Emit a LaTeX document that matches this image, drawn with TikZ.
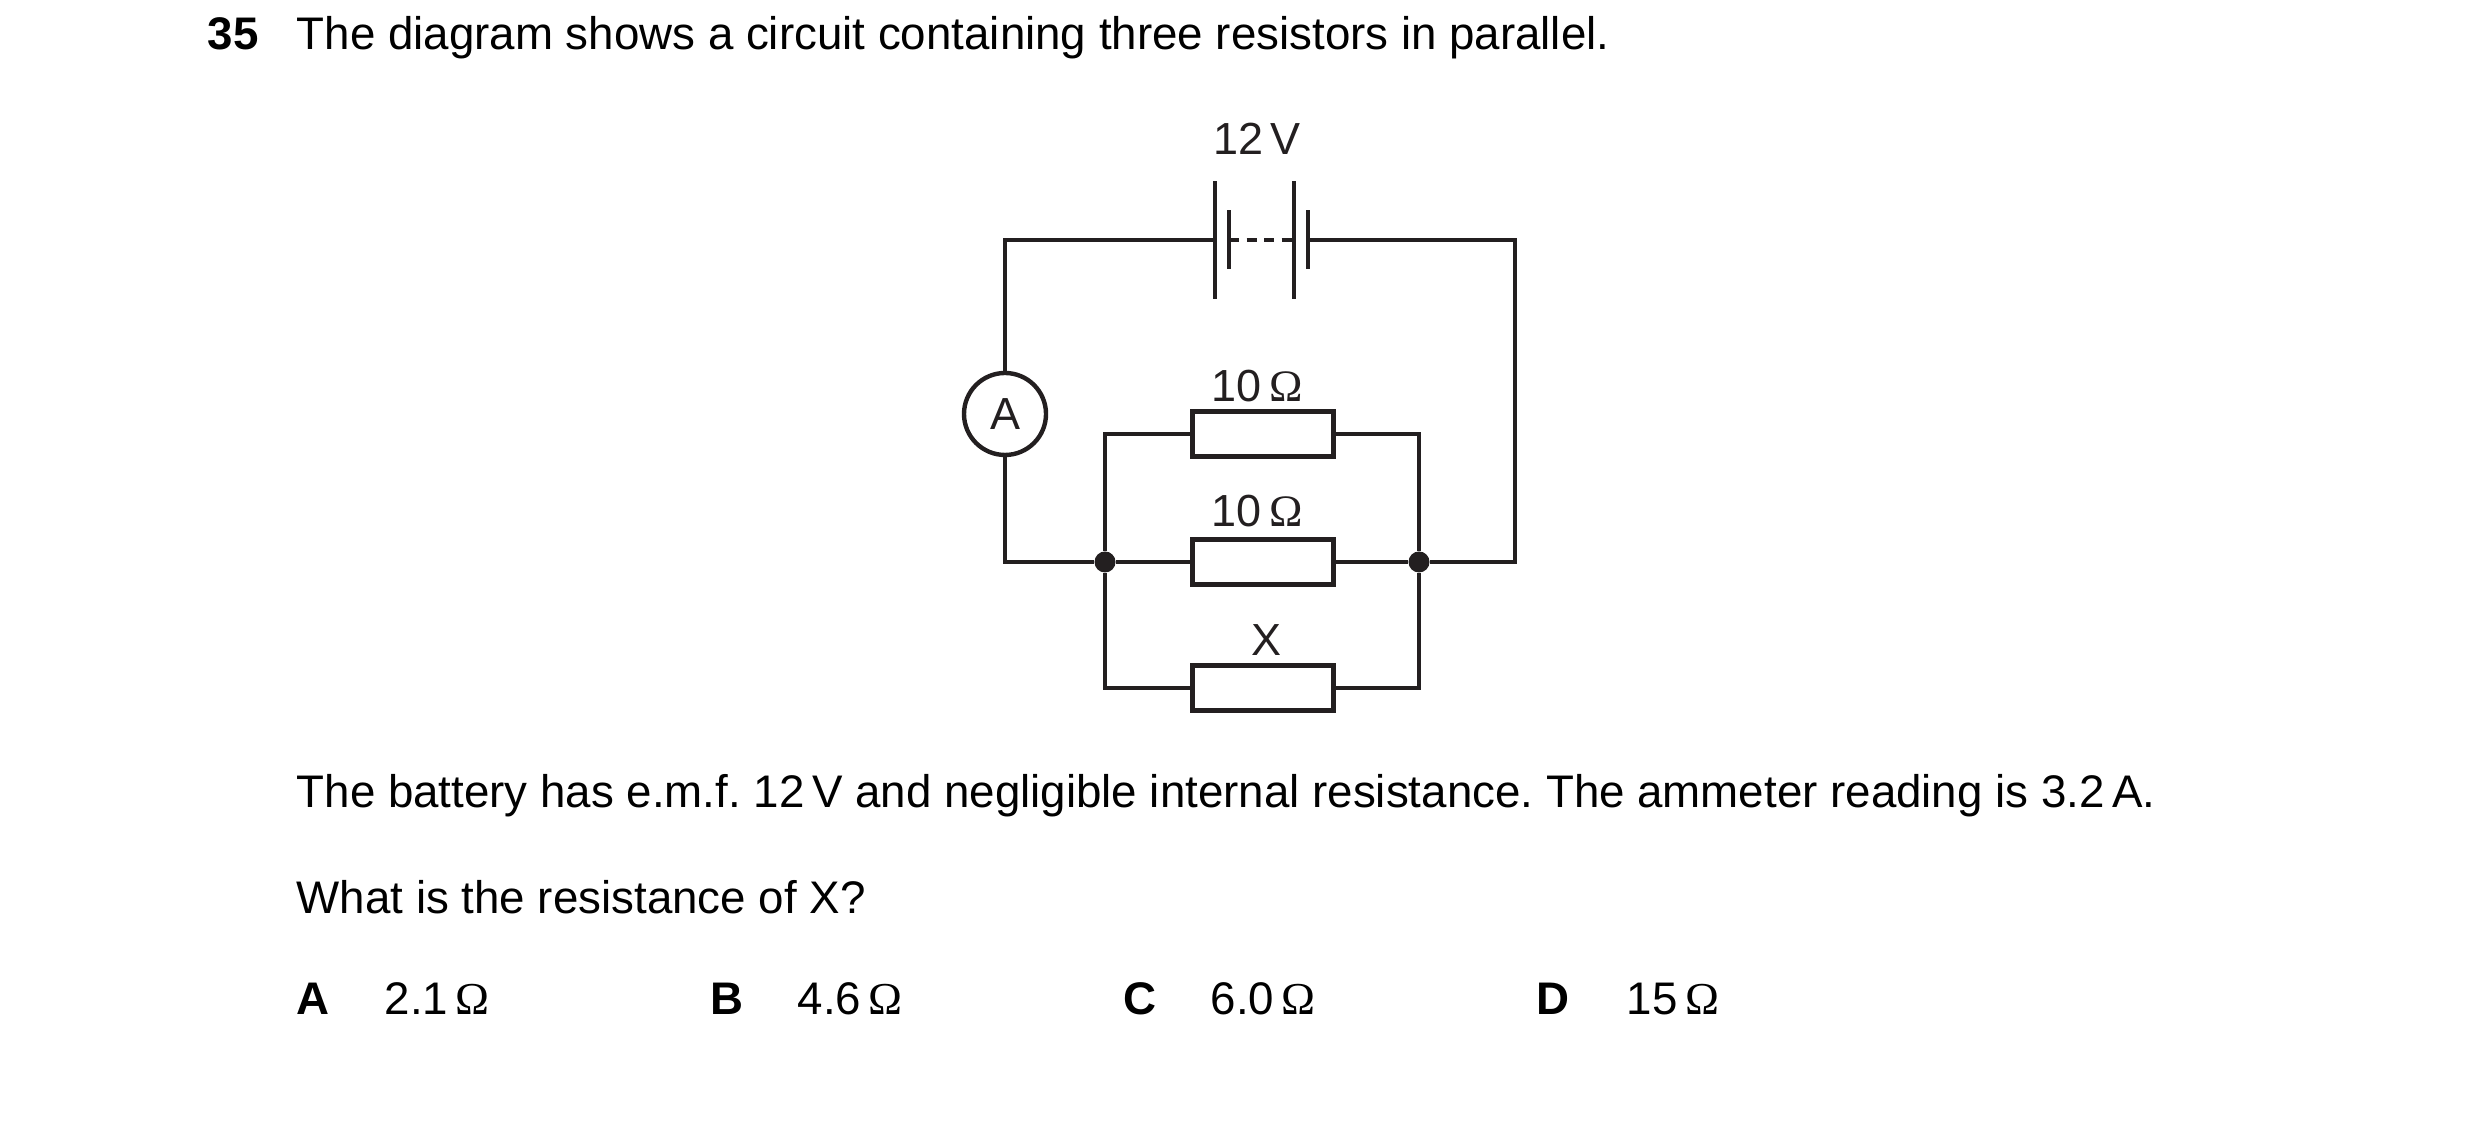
\documentclass[tikz,border=0pt]{standalone}
\usepackage{fontspec}
\setmainfont{Liberation Sans}
\newfontfamily\ohmfont{Liberation Serif}
\usepackage{xcolor}
\definecolor{inkdark}{HTML}{231F20}
\newcommand{\ohm}{\,{\ohmfont Ω}}
\tikzset{
  wire/.style={inkdark, line width=1.25pt},
  txt/.style={anchor=base west, inner sep=0pt, font=\fontsize{13}{15}\selectfont\frenchspacing},
  opt/.style={anchor=base west, inner sep=0pt, font=\fontsize{13}{15}\selectfont\bfseries},
  lbl/.style={anchor=base, inner sep=0pt, inkdark, font=\fontsize{12.8}{15}\selectfont},
  resbox/.style={wire, draw, rectangle, minimum width=1.41cm, minimum height=0.45cm, inner sep=0pt},
  ammeter/.style={wire, draw, circle, minimum size=0.82cm, inner sep=0pt, font=\fontsize{12.8}{15}\selectfont},
  junction/.style={circle, fill=inkdark, minimum size=0.21cm, inner sep=0pt},
  longplate/.style={rectangle, fill=inkdark, minimum width=1.25pt, minimum height=1.18cm, inner sep=0pt},
  shortplate/.style={rectangle, fill=inkdark, minimum width=1.25pt, minimum height=0.59cm, inner sep=0pt},
}
\begin{document}
\begin{tikzpicture}
  \useasboundingbox (0,0) rectangle (24.8,11.24);
  % question text
  \node[opt] (qnum) at (2.07,10.74) {35};
  \node[txt] (qline) at (2.96,10.74) {The diagram shows a circuit containing three resistors in parallel.};
  \node[txt] (infoline) at (2.96,3.16) {The battery has e.m.f. 12\,V and negligible internal resistance. The ammeter reading is 3.2\,A.};
  \node[txt] (askline) at (2.96,2.10) {What is the resistance of X?};
  % options
  \node[opt] (optA) at (2.96,1.09) {A};
  \node[txt] (ansA) at (3.84,1.09) {2.1\ohm};
  \node[opt] (optB) at (7.10,1.09) {B};
  \node[txt] (ansB) at (7.97,1.09) {4.6\ohm};
  \node[opt] (optC) at (11.23,1.09) {C};
  \node[txt] (ansC) at (12.10,1.09) {6.0\ohm};
  \node[opt] (optD) at (15.36,1.09) {D};
  \node[txt] (ansD) at (16.26,1.09) {15\ohm};
  % circuit parts
  \node[longplate] (cellA) at (12.15,8.84) {};
  \node[shortplate] (cellB) at (12.29,8.84) {};
  \node[longplate] (cellC) at (12.94,8.84) {};
  \node[shortplate] (cellD) at (13.08,8.84) {};
  \node[ammeter] (amm) at (10.05,7.10) {A};
  \node[resbox] (resA) at (12.63,6.90) {};
  \node[resbox] (resB) at (12.63,5.62) {};
  \node[resbox] (resX) at (12.63,4.36) {};
  \node[junction] (jleft) at (11.05,5.62) {};
  \node[junction] (jright) at (14.19,5.62) {};
  % wires
  \draw[wire] (amm.north) |- (cellA.center);
  \draw[wire] (cellD.center) -| (15.15,5.62) -- (jright);
  \draw[wire] (amm.south) |- (jleft);
  \draw[wire] (jleft) -- (resB);
  \draw[wire] (resB) -- (jright);
  \draw[wire] (jleft) |- (resA);
  \draw[wire] (resA) -| (jright);
  \draw[wire] (jleft) |- (resX);
  \draw[wire] (resX) -| (jright);
  \draw[wire, dash pattern=on 0.1cm off 0.075cm] (cellB.center) -- (cellC.center);
  % labels
  \node[lbl] (lblbat) at (12.57,9.69) {12\,V};
  \node[lbl] (lblA) at (12.57,7.22) {10\ohm};
  \node[lbl] (lblB) at (12.57,5.97) {10\ohm};
  \node[lbl] (lblX) at (12.66,4.68) {X};
\end{tikzpicture}
\end{document}
